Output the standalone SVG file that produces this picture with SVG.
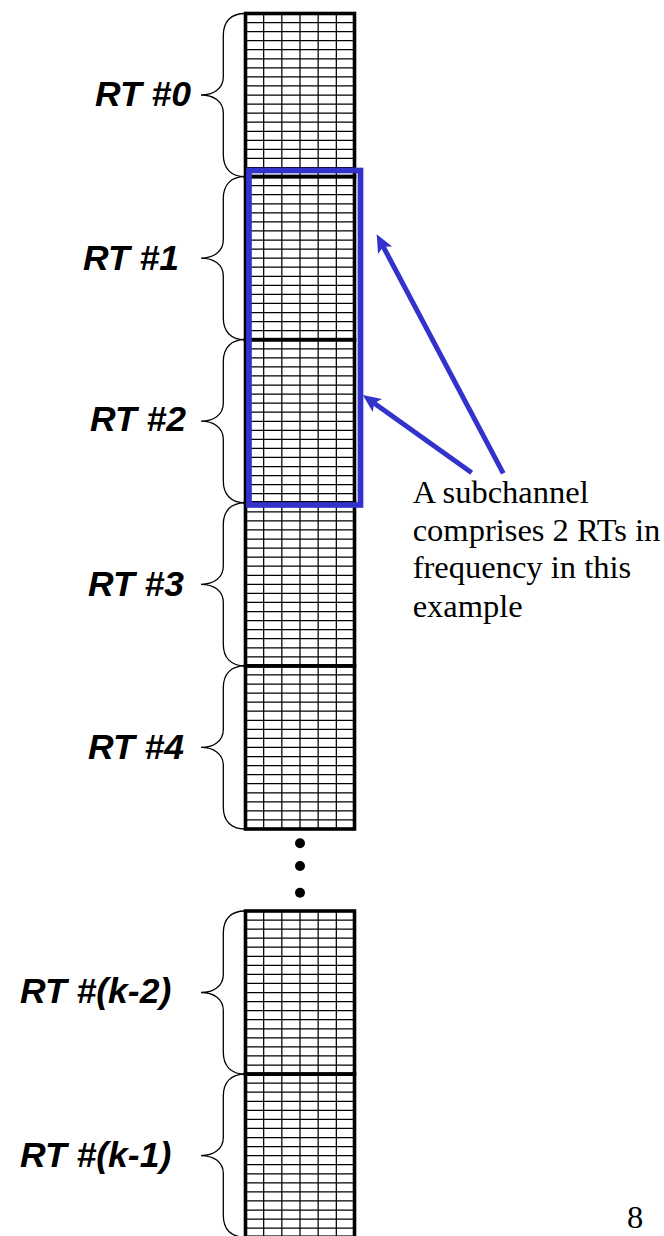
<svg xmlns="http://www.w3.org/2000/svg" xmlns:xlink="http://www.w3.org/1999/xlink" width="664" height="1236" viewBox="0 0 664 1236">
  <style>
    .grid { fill: none; stroke: #000; stroke-width: 1.25; }
    .frame { fill: none; stroke: #000; stroke-width: 3.6; }
    .brace { fill: none; stroke: #000; stroke-width: 1.3; }
    .rt { font-family: "Liberation Sans", Arial, sans-serif; font-size: 35.5px; font-weight: bold; font-style: italic; fill: #000; }
    .note { font-family: "Liberation Serif", "Times New Roman", serif; font-size: 32.5px; fill: #000; }
    .sub { fill: none; stroke: #3333CC; stroke-width: 5.7; }
    .arrow { fill: none; stroke: #3333CC; stroke-width: 5; marker-end: url(#head); }
  </style>
  <defs>
    <!-- one resource tile: 6 columns x 18 rows, thick outline -->
    <g id="tile">
      <path class="grid" d="M245.5,9.06H354.5M245.5,18.12H354.5M245.5,27.18H354.5M245.5,36.24H354.5M245.5,45.31H354.5M245.5,54.37H354.5M245.5,63.43H354.5M245.5,72.49H354.5M245.5,81.55H354.5M245.5,90.61H354.5M245.5,99.67H354.5M245.5,108.73H354.5M245.5,117.79H354.5M245.5,126.86H354.5M245.5,135.92H354.5M245.5,144.98H354.5M245.5,154.04H354.5M263.67,0V163.1M281.83,0V163.1M300,0V163.1M318.17,0V163.1M336.33,0V163.1"/>
      <rect class="frame" x="245.5" y="0" width="109" height="163.1"/>
    </g>
    <!-- curly brace spanning one tile -->
    <path id="brace" class="brace" d="M245,0C231,0 223.3,8 223.3,22L223.3,63.5C223.3,75.5 213,81.5 201,81.5C213,81.5 223.3,87.5 223.3,99.5L223.3,141.1C223.3,155.1 231,163.1 245,163.1"/>
    <marker id="head" markerUnits="userSpaceOnUse" viewBox="0 -10 20 20" markerWidth="20" markerHeight="20" refX="6" refY="0" orient="auto">
      <path d="M0,-8L18,0L0,8L4,0Z" fill="#3333CC"/>
    </marker>
  </defs>

  <g id="rt0">
    <use xlink:href="#tile" y="13.5"/>
    <use xlink:href="#brace" y="13.5"/>
    <text class="rt" x="95" y="106">RT #0</text>
  </g>
  <g id="rt1">
    <use xlink:href="#tile" y="176.6"/>
    <use xlink:href="#brace" y="176.6"/>
    <text class="rt" x="83" y="270">RT #1</text>
  </g>
  <g id="rt2">
    <use xlink:href="#tile" y="339.7"/>
    <use xlink:href="#brace" y="339.7"/>
    <text class="rt" x="90" y="431">RT #2</text>
  </g>
  <g id="rt3">
    <use xlink:href="#tile" y="502.8"/>
    <use xlink:href="#brace" y="502.8"/>
    <text class="rt" x="88" y="596">RT #3</text>
  </g>
  <g id="rt4">
    <use xlink:href="#tile" y="665.9"/>
    <use xlink:href="#brace" y="665.9"/>
    <text class="rt" x="88" y="759">RT #4</text>
  </g>

  <g id="ellipsis">
    <circle cx="300" cy="843.3" r="5"/>
    <circle cx="300" cy="866" r="5"/>
    <circle cx="300" cy="892.7" r="5"/>
  </g>

  <g id="rtk2">
    <use xlink:href="#tile" y="911"/>
    <use xlink:href="#brace" y="911"/>
    <text class="rt" x="20" y="1003">RT #(k-2)</text>
  </g>
  <g id="rtk1">
    <use xlink:href="#tile" y="1074.1"/>
    <use xlink:href="#brace" y="1074.1"/>
    <text class="rt" x="20" y="1167">RT #(k-1)</text>
  </g>

  <!-- subchannel = RT #1 + RT #2 -->
  <g id="subchannel">
    <rect class="sub" x="249" y="170.5" width="111.5" height="334.5"/>
  </g>

  <g id="note">
    <text class="note" x="412.7" y="503.3">A subchannel</text>
    <text class="note" x="412.7" y="540.7">comprises 2 RTs in</text>
    <text class="note" x="412.7" y="578.3">frequency in this</text>
    <text class="note" x="412.7" y="616.7">example</text>
  </g>

  <g id="connectors">
    <line class="arrow" x1="503.3" y1="473.3" x2="382.3" y2="244.9"/>
    <line class="arrow" x1="471.7" y1="472.7" x2="372.5" y2="402"/>
  </g>

  <text class="note" x="627" y="1228">8</text>
</svg>
